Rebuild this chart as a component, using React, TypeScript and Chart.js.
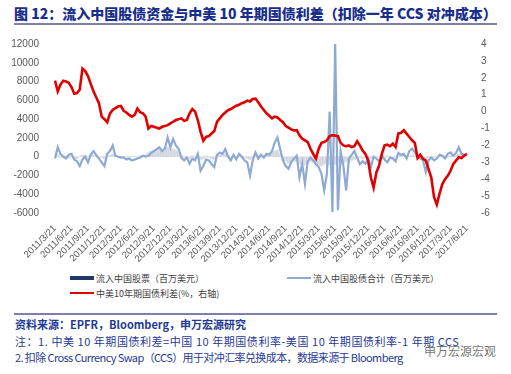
import React, { useEffect, useRef } from "react";
import { Chart, registerables } from "chart.js";

Chart.register(...registerables);

// Quarterly tick labels (one every 6 data points)
const quarterLabels = [
  "2011/3/21", "2011/6/21", "2011/9/21", "2011/12/21",
  "2012/3/21", "2012/6/21", "2012/9/21", "2012/12/21",
  "2013/3/21", "2013/6/21", "2013/9/21", "2013/12/21",
  "2014/3/21", "2014/6/21", "2014/9/21", "2014/12/21",
  "2015/3/21", "2015/6/21", "2015/9/21", "2015/12/21",
  "2016/3/21", "2016/6/21", "2016/9/21", "2016/12/21",
  "2017/3/21", "2017/6/21",
];
const pointsPerQuarter = 6;

// 中美10年期国债利差 (%, right axis)
const spreadValues = [
  1.83, 1.2, 1.6, 1.83, 1.78, 1.7, 1.45, 1.06, 1.1, 1.3,
  2.54, 2.4, 2.1, 1.65, 1.2, 0.85, 0.5, -0.3, -0.45, -0.63,
  -0.12, 0.1, 0.2, 0.3, 0.33, 0.05, -0.05, -0.2, -0.3, -0.2,
  0.18, -0.04, -0.1, -0.3, -1.0, -0.85, -0.9, -0.95, -1.0, -0.9,
  -0.85, -0.8, -0.7, -0.6, -0.5, -0.45, -0.4, -0.55, -0.5, -0.1,
  0.15, 0.0, -0.5, -1.2, -1.72, -1.5, -1.45, -1.3, -1.15, -0.6,
  -0.4, -0.2, -0.05, 0.08, 0.15, 0.25, 0.35, 0.4, 0.5, 0.55,
  0.65, 0.6, 0.75, 0.77, 0.55, 0.3, 0.1, -0.1, -0.25, -0.4,
  -0.3, -0.35, -0.5, -0.63, -0.85, -0.95, -1.05, -1.12, -1.1, -1.4,
  -1.6, -1.7, -1.8, -2.2, -2.5, -2.78, -2.2, -1.85, -1.8, -1.7,
  -1.45, -1.4, -1.42, -1.45, -1.85, -2.0, -2.05, -2.0, -2.1, -2.05,
  -1.75, -2.0, -2.3, -2.5, -2.9, -3.9, -4.5, -3.6, -3.2, -2.5,
  -2.0, -1.95, -2.05, -1.9, -2.1, -1.3, -1.25, -1.1, -1.3, -1.5,
  -1.7, -1.85, -2.75, -2.55, -2.8, -2.9, -3.4, -3.9, -5.07, -5.5,
  -4.85, -4.3, -4.0, -3.8, -3.5, -3.1, -2.9, -2.7, -2.75, -2.6, -2.5,
];

// 流入中国股债合计 (百万美元, left axis)
const totalFlowValues = [
  -200, 1000, 300, 0, -200, 200, 300, -300, -500, -1000,
  -300, 0, -600, 200, 600, 200, -200, -600, -1000, 300,
  600, 1200, 100, 0, -100, -100, -300, -200, -400, -300,
  -200, -100, 100, 0, 100, 400, 600, 800, 1000, 600,
  850, 2050, 1000, 1900, 1200, 850, -100, -400, -100, -750,
  -200, -400, 300, -1500, -1000, -300, -400, -800, -1100, 200,
  450, 300, 800, 0, -400, 200, -300, 300, 0, -400,
  -600, -2000, -400, 450, -200, 200, -100, 300, 200, 600,
  1500, 2050, 800, -400, -1000, -1300, -600, -200, 100, -2200,
  -750, -2900, -500, -100, -400, -800, -1100, -1800, -3600, -1800,
  4800, -5900, 12000, -5700, 600, -1000, -3600, -200, 200, 600,
  -100, -800, -500, -750, -200, -1100, 0, -200, -500, 100,
  -300, -600, -100, -200, -500, 400, 200, 300, -200, 600,
  850, 450, 0, -200, -400, -1650, -400, -100, -400, -200,
  200, 100, -200, 300, 450, 100, 400, 1000, 300, 200, null,
];

// 流入中国股票 (百万美元, left axis)
const equityFlowValues = [
  100, 200, -100, 0, 100, -150, 50, -100, -200, 0,
  150, 100, -100, 50, 200, 100, -50, -100, -200, 100,
  150, 300, 100, 0, -100, 50, -50, -100, 0, 50,
  -50, 100, 150, 200,
  400, 600, 700, 800, 900, 700, 800, 1000, 900, 800, 700, 500,
  100, -100, 0, -200, 100, -100, 50, -300, -200, 100,
  -100, -200, -300, 100, 200, 150, 300, 100, -100, 100,
  -50, 150, 100, -100, -200, -300, -100, 200, 100, 150,
  100, 300, 400, 500, 600, 700, 300,
  -300, -500, -700, -600, -400, -500, -800, -600, -900, -700,
  -500, -600, -800, -900, -1000, -800, -700, -900, -1000, -800,
  -600, -900, -700, -500, -600, -400, -300, -200,
  -100, -200, -100, -300, -200, -100, 0, -100, -200, -100,
  100, 0, -100, -50, 100, 150, 200, 100, 50, 200,
  100, 0, -100, -200, -300, -100, -200, -100, 0, 100,
  50, 100, -50, 100, 150, 200, 300, 200, null, null,
];

const categoryLabels: string[] = spreadValues.map((_, i) =>
  i % pointsPerQuarter === 0 ? quarterLabels[i / pointsPerQuarter] ?? "" : ""
);

const legendItems = [
  { label: "流入中国股票（百万美元）", color: "#1f3864", kind: "bar" },
  { label: "流入中国股债合计（百万美元）", color: "#8eaad2", kind: "line" },
  { label: "中美10年期国债利差(%，右轴)", color: "#e00000", kind: "line" },
];

const TICK_COLOR = "#595959";
const FONT = "'Liberation Sans', Arial, sans-serif";

export default function App() {
  const canvasRef = useRef<HTMLCanvasElement | null>(null);

  useEffect(() => {
    if (!canvasRef.current) return;
    const chart = new Chart(canvasRef.current, {
      type: "bar",
      data: {
        labels: categoryLabels,
        datasets: [
          {
            type: "line",
            label: "中美10年期国债利差(%，右轴)",
            data: spreadValues,
            borderColor: "#e00000",
            backgroundColor: "#e00000",
            borderWidth: 2.6,
            pointRadius: 0,
            tension: 0,
            yAxisID: "y1",
            order: 0,
          },
          {
            type: "line",
            label: "流入中国股债合计（百万美元）",
            data: totalFlowValues,
            borderColor: "#8eaad2",
            backgroundColor: "#8eaad2",
            borderWidth: 2.2,
            pointRadius: 0,
            tension: 0,
            yAxisID: "y",
            order: 1,
          },
          {
            type: "bar",
            label: "流入中国股票（百万美元）",
            data: equityFlowValues,
            backgroundColor: "rgba(195,198,212,0.6)",
            borderWidth: 0,
            barPercentage: 1,
            categoryPercentage: 1,
            yAxisID: "y",
            order: 2,
          },
        ],
      },
      options: {
        responsive: false,
        animation: false,
        layout: { padding: { top: 13, left: 0, right: 0, bottom: 0 } },
        plugins: {
          legend: { display: false },
          tooltip: { enabled: false },
        },
        scales: {
          x: {
            type: "category",
            offset: false,
            grid: { display: false },
            border: { display: false },
            ticks: {
              autoSkip: false,
              maxRotation: 45,
              minRotation: 45,
              padding: 2,
              color: TICK_COLOR,
              font: { size: 9.5, family: FONT },
              callback: (_v: any, idx: number) => categoryLabels[idx],
            },
            afterFit: (scale: any) => {
              scale.height = 53;
            },
          },
          y: {
            position: "left",
            min: -6000,
            max: 12000,
            grid: { display: false },
            border: { display: false },
            ticks: {
              stepSize: 2000,
              padding: 8,
              color: TICK_COLOR,
              font: { size: 10, family: FONT },
              callback: (v: any) => String(v),
            },
            afterFit: (scale: any) => {
              scale.width = 55;
            },
          },
          y1: {
            position: "right",
            min: -6,
            max: 4,
            grid: { display: false },
            border: { display: false },
            ticks: {
              stepSize: 1,
              padding: 6,
              color: TICK_COLOR,
              font: { size: 10, family: FONT },
              callback: (v: any) => String(v),
            },
            afterFit: (scale: any) => {
              scale.width = 44;
            },
          },
        },
      },
    } as any);
    return () => chart.destroy();
  }, []);

  const cjk = "'Noto Sans CJK SC', 'Noto Sans', sans-serif";
  const legendPos = [
    { left: 70, top: 272 },
    { left: 287, top: 272 },
    { left: 70, top: 287 },
  ];

  return (
    <div
      style={{
        position: "absolute",
        left: 0,
        top: 0,
        width: 511,
        height: 374,
        background: "#ffffff",
        overflow: "hidden",
        fontFamily: cjk,
      }}
    >
      <div
        style={{
          position: "absolute",
          left: 14,
          top: 4,
          fontSize: 14,
          lineHeight: "19px",
          fontWeight: 900,
          color: "#1a2f8a",
          whiteSpace: "nowrap",
        }}
      >
        图 12：流入中国股债资金与中美 10 年期国债利差（扣除一年 CCS 对冲成本）
      </div>
      <div
        style={{
          position: "absolute",
          left: 14,
          top: 23,
          width: 483,
          height: 2,
          background: "#7f7fae",
        }}
      />
      <canvas
        ref={canvasRef}
        width={511}
        height={236}
        style={{ position: "absolute", left: 0, top: 30, width: 511, height: 236 }}
      />
      {legendItems.map((item, i) => (
        <div
          key={item.label}
          style={{
            position: "absolute",
            left: legendPos[i].left,
            top: legendPos[i].top,
            height: 12,
            display: "flex",
            alignItems: "center",
            whiteSpace: "nowrap",
            fontSize: 9,
            color: "#404040",
          }}
        >
          <span
            style={{
              display: "inline-block",
              width: 24,
              height: item.kind === "bar" ? 4 : 2,
              background: item.color,
              marginRight: 2,
            }}
          />
          <span>{item.label}</span>
        </div>
      ))}
      <div
        style={{
          position: "absolute",
          left: 14,
          top: 313,
          width: 483,
          height: 2,
          background: "#7f7fae",
        }}
      />
      <div
        style={{
          position: "absolute",
          left: 15,
          top: 316,
          fontSize: 11,
          lineHeight: "16.5px",
          color: "#1f3a93",
          whiteSpace: "nowrap",
        }}
      >
        <div style={{ fontWeight: 700 }}>资料来源：EPFR，Bloomberg，申万宏源研究</div>
        <div style={{ letterSpacing: "0.55px" }}>
          注：1. 中美 10 年期国债利差=中国 10 年期国债利率-美国 10 年期国债利率-1 年期 CCS
        </div>
        <div style={{ letterSpacing: "-0.6px" }}>
          2. 扣除 Cross Currency Swap（CCS）用于对冲汇率兑换成本，数据来源于 Bloomberg
        </div>
      </div>
      <div
        style={{
          position: "absolute",
          left: 424,
          top: 342,
          fontSize: 12,
          color: "rgba(70,70,70,0.75)",
          whiteSpace: "nowrap",
        }}
      >
        申万宏源宏观
      </div>
    </div>
  );
}
